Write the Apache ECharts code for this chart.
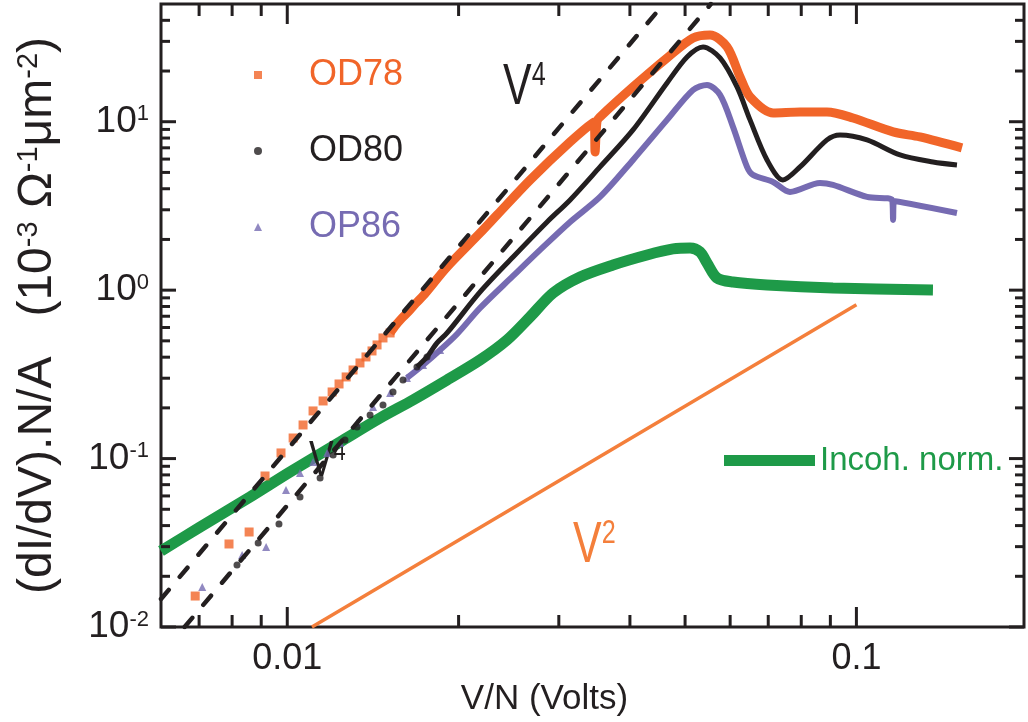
<!DOCTYPE html>
<html><head><meta charset="utf-8">
<script src="https://cdn.jsdelivr.net/npm/echarts@6/dist/echarts.min.js"></script>
<style>html,body{margin:0;padding:0;background:#fff}#c{width:1028px;height:722px}</style>
</head><body><div id="c"></div>
<script>
// ---------- axis ranges & ticks ----------
const X_MIN = 0.006, X_MAX = 0.197, Y_MIN = 0.01, Y_MAX = 50;
const xMajorTicks = [0.01, 0.1];
const xMinorTicks = [0.007, 0.008, 0.009, 0.02, 0.03, 0.04, 0.05, 0.06, 0.07, 0.08, 0.09];
const yMajorTicks = [0.01, 0.1, 1, 10];
const yMinorTicks = [0.02, 0.03, 0.04, 0.05, 0.06, 0.07, 0.08, 0.09,
                     0.2, 0.3, 0.4, 0.5, 0.6, 0.7, 0.8, 0.9,
                     2, 3, 4, 5, 6, 7, 8, 9, 20, 30, 40];

// ---------- data (V/N in volts, dI/dV.N/A) ----------
const od78Squares = [[0.00689,0.01527],[0.0079,0.03111],[0.00857,0.03665],[0.00914,0.0788],[0.00975,0.108],
  [0.01024,0.1325],[0.01066,0.1583],[0.0111,0.1918],[0.01156,0.2198],[0.01199,0.2486],[0.01233,0.2773],
  [0.01269,0.3052],[0.01305,0.3358],[0.01342,0.3696],[0.01375,0.4012],[0.01409,0.4355],[0.01438,0.4728],
  [0.01473,0.5202],[0.01516,0.5569]];
const od78Line = [[0.01516,0.5569],[0.01547,0.613],[0.01591,0.6838],[0.01637,0.7524],[0.01684,0.8395],[0.01732,0.924],
  [0.01909,1.373],[0.02182,2.186],[0.02337,2.797],[0.02671,4.51],[0.0314,7.59],[0.03459,9.97],
  [0.03474,6.62],[0.03502,10.11],[0.03544,10.68],[0.0405,16.09],[0.04648,23.92],[0.05163,31.44],
  [0.05531,32.76],[0.05925,27.81],[0.06245,18.45],[0.06503,14.04],[0.07138,11.28],[0.0796,11.43],
  [0.08878,11.43],[0.09863,10.53],[0.116,8.70],[0.1293,8.124],[0.1533,6.99]];
const od80Dots = [[0.00816,0.02334],[0.00889,0.03154],[0.00967,0.04089],[0.01053,0.05916],[0.01142,0.07669],
  [0.01204,0.1051],[0.01263,0.129],[0.01326,0.154],[0.01398,0.1815],[0.01473,0.2081],[0.01534,0.2486],
  [0.01597,0.2929],[0.0169,0.3499],[0.0176,0.4012]];
const od80Line = [[0.0169,0.3499],[0.0176,0.4012],[0.01833,0.4859],[0.01909,0.5569],[0.02182,0.9757],[0.02493,1.574],[0.02861,2.541],
  [0.0314,3.433],[0.03544,5.39],[0.0405,8.94],[0.04648,17.0],[0.0504,24.25],[0.05377,27.81],[0.0576,23.92],
  [0.06169,16.09],[0.06503,10.25],[0.06966,5.93],[0.0743,4.51],[0.0796,5.39],[0.08878,7.80],[0.09359,8.35],
  [0.1044,7.80],[0.1193,6.35],[0.1363,5.77],[0.1502,5.54]];
const op86Triangles = [[0.00709,0.01728],[0.00833,0.02677],[0.00918,0.02986],[0.00995,0.0651],[0.01053,0.08212],
  [0.0111,0.09545],[0.01175,0.108],[0.01238,0.1238],[0.01326,0.1627],[0.01415,0.2025],[0.01516,0.2452],
  [0.01623,0.3011],[0.01732,0.3596],[0.01856,0.4414]];
const op86Line = [[0.01623,0.3011],[0.01732,0.3596],[0.01856,0.4414],[0.01988,0.5494],[0.02182,0.784],[0.02493,1.214],[0.02781,1.733],[0.0314,2.541],
  [0.03544,3.577],[0.0405,5.93],[0.04648,10.25],[0.05163,15.45],[0.05464,16.54],[0.0576,14.43],[0.0607,9.314],
  [0.06424,5.39],[0.06581,4.83],[0.07138,4.39],[0.07644,3.83],[0.0863,4.33],[0.09097,4.215],[0.1044,3.577],
  [0.1155,3.433],[0.116,2.612],[0.1164,3.386],[0.1502,2.873]];
const incohNorm = [[0.006,0.02827],[0.00703,0.03925],[0.0086,0.05916],[0.01011,0.08325],[0.01238,0.1255],
  [0.01456,0.1742],[0.01663,0.2228],[0.01909,0.2929],[0.02182,0.3851],[0.02434,0.5062],[0.02671,0.6933],
  [0.02931,0.9625],[0.0327,1.198],[0.03736,1.411],[0.04287,1.618],[0.04762,1.757],[0.05102,1.781],
  [0.05311,1.686],[0.05464,1.45],[0.0569,1.181],[0.0607,1.118],[0.06966,1.074],[0.09097,1.031],[0.1363,1.003]];
const v2Guide = [[0.01105,0.01],[0.1,0.819]];
const v4GuideUpper = [[0.006,0.01466],[0.04585,50]];
const v4GuideLower = [[0.0066,0.01],[0.0555,50]];

// ---------- styles ----------
const FONT = "'Liberation Sans',Arial,sans-serif";
const INK = '#231F20', ORANGE = '#F16529', ORANGE2 = '#F47F3B', PURPLE = '#766BB2', GREEN = '#1E9A48';

function isDecade(v){ const l = Math.log10(v); return Math.abs(l - Math.round(l)) < 1e-6; }

function xTicks(len){
  return function(params, api){
    const v = api.value(0);
    const b = api.coord([v, Y_MIN]), t = api.coord([v, Y_MAX]);
    const st = {stroke: INK, lineWidth: 3};
    return {type:'group', children:[
      {type:'line', shape:{x1:b[0], y1:b[1], x2:b[0], y2:b[1]-len}, style:st},
      {type:'line', shape:{x1:t[0], y1:t[1], x2:t[0], y2:t[1]+len}, style:st}]};
  };
}
function yTicks(len){
  return function(params, api){
    const v = api.value(1);
    const l = api.coord([X_MIN, v]), r = api.coord([X_MAX, v]);
    const st = {stroke: INK, lineWidth: 3};
    return {type:'group', children:[
      {type:'line', shape:{x1:l[0], y1:l[1], x2:l[0]+len, y2:l[1]}, style:st},
      {type:'line', shape:{x1:r[0], y1:r[1], x2:r[0]-len, y2:r[1]}, style:st}]};
  };
}
function tickSeries(data, fn){
  return {type:'custom', coordinateSystem:'cartesian2d', data:data, renderItem:fn, silent:true, z:10, clip:false};
}
function powerLabel(base, exp, color, size, x, y){
  return {type:'text', x:x, y:y, z:2, scaleX:0.74, style:{text:'{v|' + base + '}{s|' + exp + '}', align:'left', verticalAlign:'middle',
    rich:{v:{fontSize:size, fontFamily:FONT, fill:color}, s:{fontSize:Math.round(size*0.58), fontFamily:FONT, fill:color, verticalAlign:'top'}}}};
}

const chart = echarts.init(document.getElementById('c'), null, {renderer:'canvas'});
chart.setOption({
  animation:false,
  backgroundColor:'#fff',
  grid:{left:161, right:4, top:4, bottom:95, show:true, borderColor:INK, borderWidth:3},
  xAxis:{type:'log', min:X_MIN, max:X_MAX,
    axisLine:{show:false}, axisTick:{show:false}, splitLine:{show:false},
    axisLabel:{margin:14, fontSize:36, fontFamily:FONT, color:INK,
      formatter:v => isDecade(v) ? String(+(+v).toPrecision(6)) : ''},
    name:'V/N (Volts)', nameLocation:'middle', nameGap:48,
    nameTextStyle:{fontSize:35, fontFamily:FONT, color:INK, padding:[0,96,0,0]}},
  yAxis:{type:'log', min:Y_MIN, max:Y_MAX,
    axisLine:{show:false}, axisTick:{show:false}, splitLine:{show:false},
    axisLabel:{margin:12, formatter:v => isDecade(v) ? '{b|10}{s|' + Math.round(Math.log10(v)) + '}' : '',
      rich:{b:{fontSize:37, fontFamily:FONT, color:INK},
            s:{fontSize:22, fontFamily:FONT, color:INK, verticalAlign:'top'}}},
    name:'(dI/dV).N/A   (10{s|-3} Ω{s|-1}μm{s|-2})', nameLocation:'middle', nameRotate:90, nameGap:99,
    nameTextStyle:{fontSize:48, fontFamily:FONT, color:INK,
      rich:{s:{fontSize:29, fontFamily:FONT, color:INK, verticalAlign:'top'}}}},
  legend:[{
    orient:'vertical', left:254, top:57, padding:0, itemGap:40, itemWidth:8, itemHeight:8, selectedMode:false,
    formatter:n => '{sp|}' + n,
    textStyle:{fontSize:36, fontFamily:FONT, rich:{sp:{width:42}}},
    data:[{name:'OD78', icon:'rect', textStyle:{color:ORANGE}},
          {name:'OD80', icon:'circle', textStyle:{color:INK}},
          {name:'OP86', icon:'triangle', textStyle:{color:PURPLE}}]
  },{
    left:724, top:444, padding:0, itemWidth:91, itemHeight:11, selectedMode:false,
    textStyle:{fontSize:33, fontFamily:FONT},
    data:[{name:'Incoh. norm.', icon:'rect', textStyle:{color:GREEN}}]
  }],
  graphic:[
    powerLabel('V', '4', INK, 58, 503, 88),
    powerLabel('V', '2', ORANGE2, 58, 573, 546),
    powerLabel('V', '4', INK, 50, 309, 462)
  ],
  series:[
    {name:'Incoh. norm.', type:'line', data:incohNorm, showSymbol:false, smooth:0.3, z:1,
      itemStyle:{color:GREEN}, lineStyle:{color:GREEN, width:11}},
    {name:'V2 guide', type:'line', data:v2Guide, showSymbol:false, z:1, lineStyle:{color:ORANGE2, width:3.5}},
    {name:'OD78', type:'scatter', data:od78Squares, symbol:'rect', symbolSize:9, z:3, itemStyle:{color:ORANGE}},
    {name:'OD78', type:'line', data:od78Line, showSymbol:false, smooth:0.3, z:3,
      itemStyle:{color:ORANGE}, lineStyle:{color:ORANGE, width:9}},
    {name:'OP86', type:'scatter', data:op86Triangles, symbol:'triangle', symbolSize:8, z:3, itemStyle:{color:PURPLE}},
    {name:'OP86', type:'line', data:op86Line, showSymbol:false, smooth:0.3, z:3,
      itemStyle:{color:PURPLE}, lineStyle:{color:PURPLE, width:6}},
    {name:'OD80', type:'scatter', data:od80Dots, symbol:'circle', symbolSize:7, z:4, itemStyle:{color:INK}},
    {name:'OD80', type:'line', data:od80Line, showSymbol:false, smooth:0.3, z:4,
      itemStyle:{color:INK}, lineStyle:{color:INK, width:5}},
    {name:'V4 guide a', type:'line', data:v4GuideUpper, showSymbol:false, z:5,
      lineStyle:{color:INK, width:4.5, type:[12,17], cap:'round'}},
    {name:'V4 guide b', type:'line', data:v4GuideLower, showSymbol:false, z:5,
      lineStyle:{color:INK, width:4.5, type:[12,17], cap:'round'}},
    tickSeries(xMajorTicks.map(v => [v, Y_MIN]), xTicks(20)),
    tickSeries(xMinorTicks.map(v => [v, Y_MIN]), xTicks(12)),
    tickSeries(yMajorTicks.map(v => [X_MIN, v]), yTicks(15)),
    tickSeries(yMinorTicks.map(v => [X_MIN, v]), yTicks(9))
  ]
});
</script></body></html>
